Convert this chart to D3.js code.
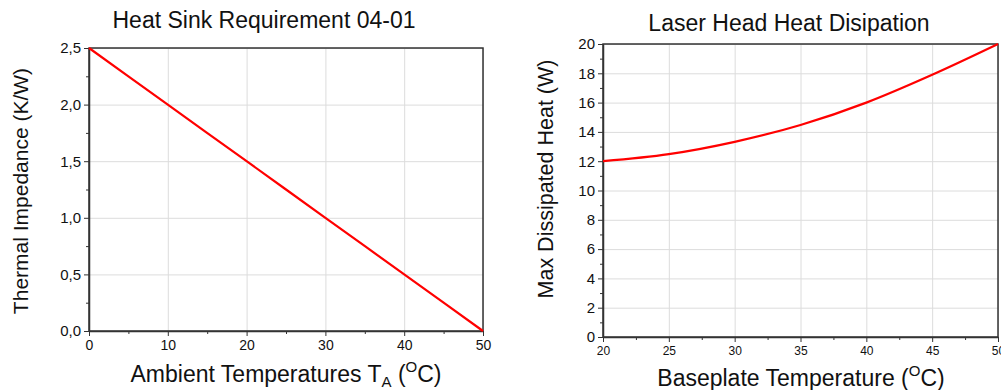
<!DOCTYPE html>
<html>
<head>
<meta charset="utf-8">
<script src="https://cdn.jsdelivr.net/npm/d3@7"></script>
<style>
  body { margin: 0; background: #fff; }
  svg text { font-family: "Liberation Sans", Arial, sans-serif; fill: #111; }
  .grid line { stroke: #dcdcdc; stroke-width: 1; }
  .grid path { display: none; }
  .axis path, .axis line { stroke: #333; }
</style>
</head>
<body>
<div id="chart"></div>
<script>
// left chart: heat sink requirement
var ambientTemp = [0, 10, 20, 30, 40, 50];
var thermalImpedance = [2.5, 2.0, 1.5, 1.0, 0.5, 0.0];
var leftXTicks = [0, 10, 20, 30, 40, 50];
var leftYTicks = [0, 0.5, 1.0, 1.5, 2.0, 2.5];

// right chart: laser head heat dissipation
var baseplateTemp = [20, 25, 30, 35, 40, 45, 50];
var maxHeat = [12, 12.48, 13.32, 14.47, 16.0, 17.9, 20];
var rightXTicks = [20, 25, 30, 35, 40, 45, 50];
var rightYTicks = [0, 2, 4, 6, 8, 10, 12, 14, 16, 18, 20];

var svg = d3.select("#chart")
  .append("svg")
  .attr("width", 1001)
  .attr("height", 390);

// comma decimal like the original
var commaFmt = function(d) { return d3.format(".1f")(d).replace(".", ","); };

// draws one framed panel with grid, outward ticks and minor ticks
function drawPanel(opt) {
  var x = d3.scaleLinear().domain(opt.xDomain).range([opt.left, opt.right]);
  var y = d3.scaleLinear().domain(opt.yDomain).range([opt.bottom, opt.top]);
  var g = svg.append("g");

  // grid
  g.append("g").attr("class", "grid")
    .attr("transform", `translate(0, ${opt.bottom})`)
    .call(d3.axisBottom(x).tickValues(opt.xTicks).tickSize(-(opt.bottom - opt.top)).tickFormat(""));
  g.append("g").attr("class", "grid")
    .attr("transform", `translate(${opt.left}, 0)`)
    .call(d3.axisLeft(y).tickValues(opt.yTicks).tickSize(-(opt.right - opt.left)).tickFormat(""));

  // minor ticks
  g.append("g").attr("class", "axis")
    .attr("transform", `translate(0, ${opt.bottom})`)
    .call(d3.axisBottom(x).tickValues(opt.xMinor).tickSize(3).tickFormat(""))
    .call(a => a.select(".domain").remove());
  g.append("g").attr("class", "axis")
    .attr("transform", `translate(${opt.left}, 0)`)
    .call(d3.axisLeft(y).tickValues(opt.yMinor).tickSize(3).tickFormat(""))
    .call(a => a.select(".domain").remove());

  // frame
  g.append("rect")
    .attr("x", opt.left).attr("y", opt.top)
    .attr("width", opt.right - opt.left).attr("height", opt.bottom - opt.top)
    .attr("fill", "none").attr("stroke", "#333").attr("stroke-width", 1.5);

  // major axes
  var xAxis = g.append("g").attr("class", "axis")
    .attr("transform", `translate(0, ${opt.bottom})`)
    .call(d3.axisBottom(x).tickValues(opt.xTicks).tickSize(5).tickSizeOuter(0).tickPadding(4).tickFormat(opt.xFormat));
  xAxis.selectAll("text").style("font-size", opt.xFont + "px").attr("fill", "#222");
  xAxis.select(".domain").attr("stroke-width", 1.5);

  var yAxis = g.append("g").attr("class", "axis")
    .attr("transform", `translate(${opt.left}, 0)`)
    .call(d3.axisLeft(y).tickValues(opt.yTicks).tickSize(5).tickSizeOuter(0).tickPadding(3).tickFormat(opt.yFormat));
  yAxis.selectAll("text").style("font-size", "15px").attr("fill", "#222");
  yAxis.select(".domain").attr("stroke-width", 1.5);

  // data line
  var line = d3.line()
    .x(d => x(d[0]))
    .y(d => y(d[1]))
    .curve(d3.curveMonotoneX);
  g.append("path")
    .datum(opt.xs.map((v, i) => [v, opt.ys[i]]))
    .attr("d", line)
    .attr("fill", "none")
    .attr("stroke", "#ff0000")
    .attr("stroke-width", 2.2);

  // title
  g.append("text")
    .attr("x", opt.titleX)
    .attr("y", opt.titleY)
    .attr("text-anchor", "middle")
    .style("font-size", opt.titleFont + "px")
    .text(opt.title);

  // y label
  g.append("text")
    .attr("transform", `translate(${opt.yLabelX}, ${opt.yLabelY}) rotate(-90)`)
    .attr("text-anchor", "middle")
    .style("font-size", opt.yLabelFont + "px")
    .text(opt.yLabel);

  // x label with sub/superscripts
  var xl = g.append("text")
    .attr("x", opt.xLabelX)
    .attr("y", opt.xLabelY)
    .attr("text-anchor", "middle")
    .style("font-size", "23px");
  xl.append("tspan").text(opt.xLabel);
  if (opt.sub) {
    xl.append("tspan").attr("dy", 5).style("font-size", "15px").text(opt.sub);
    xl.append("tspan").attr("dy", -5).text(" (");
  } else {
    xl.append("tspan").text(" (");
  }
  xl.append("tspan").attr("dy", -10).style("font-size", "15px").text("O");
  xl.append("tspan").attr("dy", 10).text("C)");
}

drawPanel({
  left: 89, right: 483, top: 48, bottom: 331,
  xDomain: [0, 50], yDomain: [0, 2.5],
  xTicks: leftXTicks, yTicks: leftYTicks,
  xMinor: [5, 15, 25, 35, 45], yMinor: [0.25, 0.75, 1.25, 1.75, 2.25],
  xFormat: d3.format("d"), yFormat: commaFmt, xFont: 14,
  xs: ambientTemp, ys: thermalImpedance,
  title: "Heat Sink Requirement 04-01", titleX: 264, titleY: 28, titleFont: 23,
  yLabel: "Thermal Impedance (K/W)", yLabelX: 28, yLabelY: 191, yLabelFont: 21,
  xLabel: "Ambient Temperatures T", sub: "A",
  xLabelX: 286, xLabelY: 382
});

drawPanel({
  left: 603, right: 998, top: 44, bottom: 337,
  xDomain: [20, 50], yDomain: [0, 20],
  xTicks: rightXTicks, yTicks: rightYTicks,
  xMinor: [22.5, 27.5, 32.5, 37.5, 42.5, 47.5], yMinor: d3.range(1, 20, 2),
  xFormat: d3.format("d"), yFormat: d3.format("d"), xFont: 12,
  xs: baseplateTemp, ys: maxHeat,
  title: "Laser Head Heat Disipation", titleX: 789, titleY: 31, titleFont: 23,
  yLabel: "Max Dissipated Heat (W)", yLabelX: 553, yLabelY: 179, yLabelFont: 21.5,
  xLabel: "Baseplate Temperature", sub: null,
  xLabelX: 801, xLabelY: 386
});
</script>
</body>
</html>
